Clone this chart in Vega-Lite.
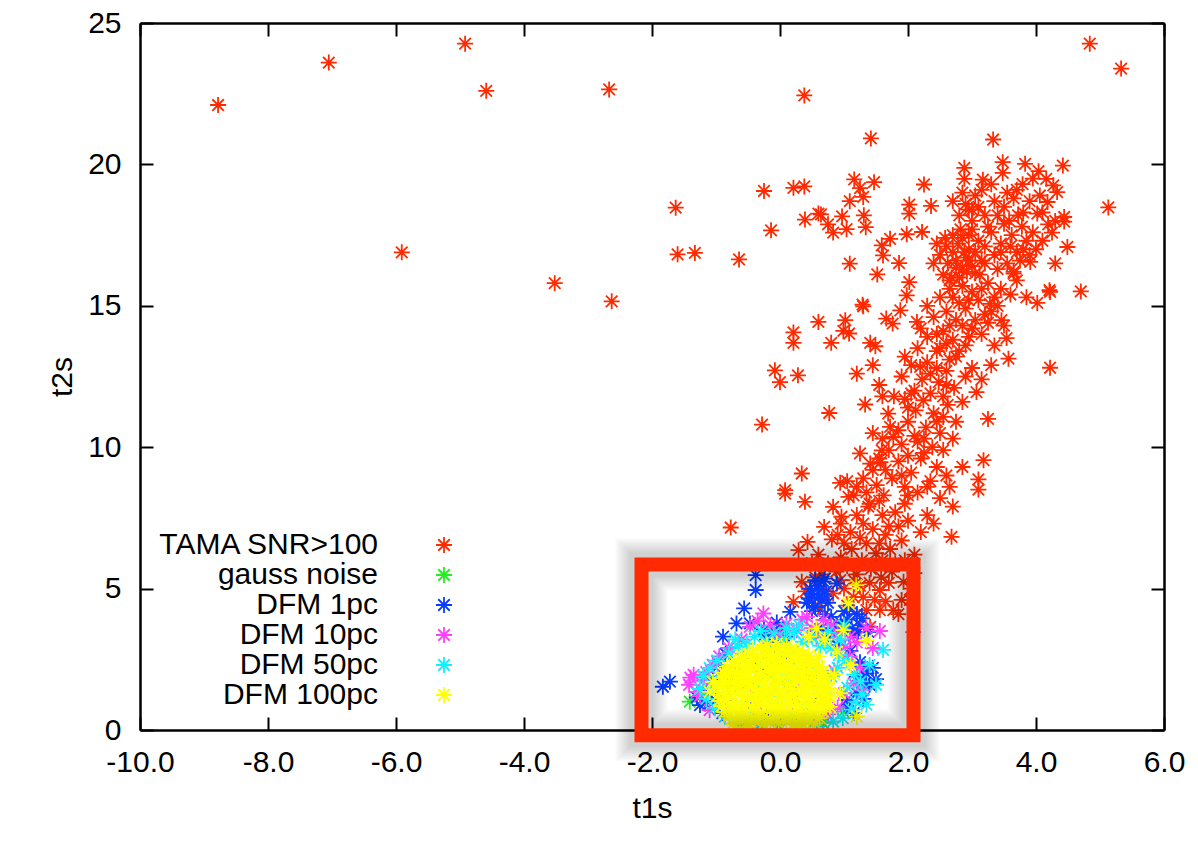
{
  "$schema": "https://vega.github.io/schema/vega-lite/v6.json",
  "width": 1024,
  "height": 707,
  "autosize": {"type": "none"},
  "padding": {"left": 140, "top": 23, "right": 34, "bottom": 132},
  "background": "#ffffff",
  "datasets": {
    "tama": [
      {"x":-8.78,"y":22.1},{"x":-7.05,"y":23.6},{"x":-4.92,"y":24.27},{"x":-4.59,"y":22.6},{"x":-2.67,"y":22.65},{"x":-5.91,"y":16.89},{"x":-3.52,"y":15.8},{"x":-2.63,"y":15.16},{"x":0.38,"y":22.44},{"x":4.84,"y":24.27},{"x":5.33,"y":23.39},{"x":1.42,"y":20.92},{"x":3.33,"y":20.88},{"x":5.13,"y":18.48},
      {"x":-1.63,"y":18.47},{"x":-1.6,"y":16.82},{"x":-1.33,"y":16.87},{"x":-0.64,"y":16.64},{"x":-0.25,"y":19.06},{"x":0.21,"y":19.17},{"x":0.38,"y":19.22},{"x":-0.14,"y":17.67},{"x":0.39,"y":18.05},{"x":0.6,"y":18.26},{"x":0.21,"y":14.06},{"x":0.21,"y":13.69},{"x":0.6,"y":14.43},{"x":-0.08,"y":12.72},{"x":0.0,"y":12.3},{"x":0.28,"y":12.54},{"x":-0.28,"y":10.8},
      {"x":1.16,"y":19.47},{"x":1.47,"y":19.37},{"x":1.25,"y":19.16},{"x":1.3,"y":18.85},{"x":1.09,"y":18.7},{"x":0.64,"y":18.23},{"x":0.97,"y":18.16},{"x":1.31,"y":18.2},{"x":0.75,"y":17.88},{"x":0.83,"y":17.59},{"x":1.04,"y":17.71},{"x":1.34,"y":17.78},{"x":2.25,"y":19.29},{"x":2.02,"y":18.58},{"x":2.02,"y":18.26},{"x":2.36,"y":18.53},{"x":2.88,"y":19.88},{"x":2.88,"y":19.49},{"x":3.17,"y":19.46},{"x":3.48,"y":20.08},{"x":3.48,"y":19.7},{"x":3.83,"y":20.02},{"x":4.04,"y":19.76},{"x":4.42,"y":19.96},{"x":4.16,"y":19.49},{"x":4.27,"y":19.26},{"x":3.79,"y":19.3},{"x":4.33,"y":19.02},{"x":4.06,"y":18.9},{"x":4.18,"y":18.67},{"x":4.44,"y":18.14},{"x":4.44,"y":17.98},{"x":4.19,"y":17.88},{"x":4.25,"y":17.59},{"x":4.49,"y":17.08},{"x":4.02,"y":18.26},{"x":3.91,"y":16.55},{"x":3.65,"y":16.14},{"x":4.21,"y":15.55},{"x":4.7,"y":15.51},{"x":4.02,"y":15.1},
      {"x":1.09,"y":16.49},{"x":1.52,"y":16.11},{"x":1.72,"y":17.37},{"x":1.59,"y":17.14},{"x":1.61,"y":16.78},{"x":1.86,"y":16.51},{"x":1.98,"y":17.53},{"x":2.22,"y":17.61},{"x":2.02,"y":15.84},{"x":1.29,"y":15.04},{"x":1.02,"y":14.49},{"x":0.99,"y":14.11},{"x":1.08,"y":14.02},{"x":0.8,"y":13.69},{"x":1.3,"y":14.98},{"x":1.41,"y":13.69},{"x":1.49,"y":13.57},{"x":1.66,"y":14.55},{"x":1.76,"y":14.37},{"x":1.88,"y":14.84},{"x":1.98,"y":15.37},{"x":2.14,"y":14.43},{"x":0.77,"y":11.21},{"x":1.33,"y":11.51},{"x":0.34,"y":9.07},{"x":0.08,"y":8.48},{"x":1.25,"y":9.78},{"x":1.59,"y":9.89},{"x":1.57,"y":9.47},{"x":1.41,"y":9.42},{"x":0.94,"y":8.74},{"x":1.2,"y":8.6},{"x":1.51,"y":8.66},{"x":2.19,"y":12.84},{"x":2.24,"y":11.66},{"x":1.69,"y":11.19},{"x":1.72,"y":10.72},{"x":1.77,"y":10.36},{"x":2.55,"y":11.07},{"x":2.6,"y":13.66},{"x":3.07,"y":11.95},{"x":3.25,"y":11.0},{"x":3.57,"y":13.13},{"x":4.22,"y":15.49},{"x":4.22,"y":12.81},{"x":3.54,"y":13.86},{"x":3.46,"y":14.49},{"x":3.28,"y":15.07},{"x":3.18,"y":9.54},{"x":3.1,"y":8.86},{"x":3.1,"y":8.5},
      {"x":-0.77,"y":7.16},{"x":0.08,"y":8.36},{"x":0.39,"y":8.07},{"x":0.69,"y":7.18},{"x":0.81,"y":6.74},{"x":0.43,"y":6.65},{"x":0.29,"y":6.36},{"x":0.83,"y":7.89},{"x":0.96,"y":7.54},{"x":1.07,"y":8.24},{"x":2.68,"y":6.83},{"x":2.65,"y":8.6},{"x":0.34,"y":5.24},{"x":0.94,"y":5.3},{"x":1.56,"y":4.95},{"x":1.93,"y":5.24},{"x":0.83,"y":4.83},{"x":0.21,"y":4.53},{"x":1.77,"y":4.24},{"x":1.56,"y":4.24},{"x":1.35,"y":4.24},{"x":1.41,"y":3.65},{"x":0.98,"y":3.53},{"x":2.03,"y":4.6},{"x":2.1,"y":5.55},
      {"x":0.95,"y":6.1},{"x":1.05,"y":5.8},{"x":1.12,"y":6.4},{"x":1.2,"y":5.5},{"x":1.28,"y":6.0},{"x":1.35,"y":6.6},{"x":1.42,"y":5.7},{"x":1.5,"y":6.25},{"x":1.58,"y":5.4},{"x":1.65,"y":6.9},{"x":1.1,"y":7.0},{"x":1.0,"y":6.6},{"x":0.88,"y":5.6},{"x":1.3,"y":7.3},{"x":1.45,"y":7.1},{"x":1.72,"y":6.4},{"x":1.8,"y":5.9},{"x":1.25,"y":5.1},{"x":1.15,"y":4.7},{"x":1.48,"y":4.6},{"x":1.7,"y":5.2},{"x":0.75,"y":5.9},{"x":0.6,"y":6.2},{"x":1.9,"y":6.7},{"x":2.0,"y":7.4},{"x":1.6,"y":7.6},{"x":1.38,"y":7.9},{"x":1.85,"y":7.2},{"x":1.55,"y":8.1},{"x":1.95,"y":8.0},{"x":2.2,"y":7.0},{"x":2.1,"y":6.2},{"x":0.55,"y":5.4},{"x":0.7,"y":4.8},{"x":1.05,"y":4.4},{"x":1.2,"y":4.1},{"x":1.65,"y":4.55},{"x":1.85,"y":4.1},
      {"x":0.5,"y":5.9},{"x":0.65,"y":5.5},{"x":0.9,"y":6.9},{"x":1.15,"y":5.3},{"x":1.4,"y":5.2},{"x":1.6,"y":6.0},{"x":1.75,"y":5.6},{"x":1.95,"y":6.0},{"x":2.05,"y":5.0},{"x":0.4,"y":4.9},{"x":0.6,"y":4.4},{"x":1.9,"y":4.6},{"x":1.3,"y":4.7},{"x":1.0,"y":5.0},{"x":1.25,"y":6.8},{"x":1.55,"y":6.6},{"x":1.7,"y":7.2},{"x":1.2,"y":7.6},{"x":0.95,"y":7.3},
      {"x":1.3,"y":8.9},{"x":1.45,"y":9.2},{"x":1.62,"y":8.3},{"x":1.75,"y":8.9},{"x":1.85,"y":9.5},{"x":1.95,"y":8.6},{"x":2.05,"y":9.1},{"x":2.15,"y":8.4},{"x":2.25,"y":9.8},{"x":2.35,"y":8.8},{"x":2.45,"y":9.3},{"x":1.7,"y":9.9},{"x":1.9,"y":10.1},{"x":2.1,"y":10.4},{"x":1.4,"y":8.0},{"x":1.15,"y":8.3},{"x":2.5,"y":8.2},{"x":2.3,"y":7.6},{"x":2.55,"y":9.9},{"x":1.8,"y":7.7},{"x":2.0,"y":8.3},{"x":2.4,"y":7.3},{"x":2.7,"y":7.9},{"x":2.6,"y":9.0},{"x":2.85,"y":9.3},{"x":1.55,"y":9.6},{"x":2.2,"y":9.6},{"x":2.0,"y":9.7},{"x":1.05,"y":8.8},{"x":1.35,"y":8.4},{"x":1.65,"y":9.2},{"x":2.3,"y":8.6},{"x":1.9,"y":9.0},
      {"x":1.85,"y":10.6},{"x":2.0,"y":10.9},{"x":2.12,"y":11.3},{"x":2.28,"y":10.7},{"x":2.4,"y":11.2},{"x":2.5,"y":10.5},{"x":2.62,"y":11.5},{"x":2.75,"y":10.9},{"x":1.95,"y":11.7},{"x":2.1,"y":12.0},{"x":2.22,"y":12.4},{"x":2.35,"y":11.9},{"x":2.48,"y":12.3},{"x":2.6,"y":12.7},{"x":2.72,"y":12.1},{"x":1.9,"y":12.5},{"x":2.05,"y":12.9},{"x":2.3,"y":13.0},{"x":2.45,"y":12.8},{"x":2.85,"y":11.6},{"x":2.9,"y":12.5},{"x":2.0,"y":11.4},{"x":2.55,"y":11.8},{"x":1.78,"y":11.8},{"x":2.15,"y":10.2},{"x":2.38,"y":10.0},{"x":2.7,"y":10.3},{"x":1.95,"y":13.2},{"x":2.65,"y":13.1},{"x":2.8,"y":13.4},{"x":3.0,"y":12.8},{"x":3.15,"y":12.4},{"x":3.3,"y":12.9},{"x":1.2,"y":12.6},{"x":1.45,"y":12.9},{"x":1.55,"y":12.2},{"x":1.6,"y":11.8},{"x":1.45,"y":10.5},{"x":2.25,"y":10.3},{"x":2.45,"y":10.9},{"x":1.6,"y":10.3},{"x":2.05,"y":11.9},{"x":2.6,"y":12.2},{"x":2.35,"y":12.6},
      {"x":2.15,"y":13.5},{"x":2.3,"y":13.9},{"x":2.45,"y":13.4},{"x":2.55,"y":14.1},{"x":2.7,"y":13.8},{"x":2.85,"y":14.3},{"x":2.95,"y":13.9},{"x":3.05,"y":14.5},{"x":3.15,"y":14.0},{"x":3.25,"y":14.4},{"x":3.35,"y":13.6},{"x":2.4,"y":14.6},{"x":2.6,"y":14.8},{"x":2.75,"y":14.5},{"x":2.9,"y":14.9},{"x":3.1,"y":15.2},{"x":3.2,"y":14.7},{"x":2.3,"y":15.0},{"x":2.5,"y":15.3},{"x":3.4,"y":15.0},{"x":3.5,"y":14.3},{"x":2.2,"y":14.2},{"x":3.6,"y":15.4},{"x":3.0,"y":15.5},{"x":2.65,"y":15.6},{"x":2.8,"y":15.1},{"x":2.5,"y":13.5},{"x":2.75,"y":13.2},{"x":2.9,"y":13.6},{"x":3.0,"y":14.2},{"x":2.45,"y":14.0},{"x":2.65,"y":14.3},{"x":2.7,"y":15.3},{"x":2.95,"y":15.2},{"x":3.3,"y":14.8},
      {"x":2.55,"y":16.1},{"x":2.62,"y":16.5},{"x":2.7,"y":16.9},{"x":2.78,"y":17.2},{"x":2.85,"y":16.3},{"x":2.9,"y":16.7},{"x":2.95,"y":17.0},{"x":3.0,"y":16.4},{"x":3.05,"y":16.9},{"x":3.1,"y":17.3},{"x":2.6,"y":17.1},{"x":2.7,"y":17.5},{"x":2.82,"y":17.7},{"x":2.95,"y":17.5},{"x":3.15,"y":16.6},{"x":2.68,"y":16.0},{"x":2.75,"y":16.6},{"x":2.88,"y":16.9},{"x":2.8,"y":16.0},{"x":3.0,"y":17.7},{"x":2.5,"y":16.8},{"x":2.58,"y":17.4},{"x":2.65,"y":15.9},{"x":2.92,"y":16.2},{"x":3.12,"y":16.1},{"x":3.2,"y":17.1},{"x":2.4,"y":16.5},{"x":2.45,"y":17.2},{"x":2.85,"y":15.7},{"x":3.15,"y":15.6},{"x":3.35,"y":15.3},{"x":2.75,"y":16.35},{"x":2.95,"y":16.6},{"x":3.05,"y":16.15},{"x":2.85,"y":17.4},{"x":3.2,"y":16.5},
      {"x":3.35,"y":16.8},{"x":3.45,"y":17.2},{"x":3.55,"y":16.5},{"x":3.62,"y":17.5},{"x":3.7,"y":16.9},{"x":3.78,"y":17.8},{"x":3.85,"y":17.3},{"x":3.5,"y":17.9},{"x":3.4,"y":16.3},{"x":3.65,"y":16.2},{"x":3.9,"y":16.8},{"x":3.95,"y":17.6},{"x":3.3,"y":17.6},{"x":3.58,"y":18.0},{"x":3.75,"y":16.6},{"x":3.25,"y":15.8},{"x":3.45,"y":15.6},{"x":3.7,"y":15.9},{"x":3.85,"y":15.3},{"x":3.45,"y":16.9},{"x":3.6,"y":17.1},{"x":3.8,"y":17.0},
      {"x":2.8,"y":18.2},{"x":2.9,"y":18.6},{"x":3.0,"y":18.0},{"x":3.05,"y":18.9},{"x":2.95,"y":18.4},{"x":3.1,"y":18.5},{"x":2.85,"y":19.0},{"x":3.2,"y":18.2},{"x":3.35,"y":18.7},{"x":3.5,"y":18.5},{"x":3.65,"y":18.8},{"x":3.8,"y":18.3},{"x":3.9,"y":18.7},{"x":3.7,"y":19.1},{"x":3.55,"y":19.0},{"x":3.95,"y":19.5},{"x":4.1,"y":18.3},{"x":3.3,"y":19.3},{"x":2.7,"y":18.7},{"x":3.15,"y":19.1},{"x":4.3,"y":18.0},{"x":4.1,"y":17.3},{"x":4.0,"y":17.0},{"x":4.3,"y":16.5},{"x":3.72,"y":18.2},{"x":3.4,"y":18.2},{"x":3.0,"y":18.4},{"x":3.25,"y":17.8}
    ],
    "gauss": [
      {"x":-1.41,"y":1.0},{"x":0.99,"y":0.65},{"x":0.67,"y":0.25},{"x":-0.05,"y":0.03},{"x":-0.6,"y":0.8},{"x":-0.3,"y":1.2},{"x":0.1,"y":1.6},{"x":0.4,"y":1.0},{"x":-0.2,"y":2.0},{"x":0.2,"y":0.5},{"x":-0.8,"y":1.5},{"x":0.5,"y":1.8},{"x":-0.5,"y":0.4},{"x":0.0,"y":2.4},{"x":0.3,"y":2.2},{"x":-0.9,"y":0.9},{"x":0.7,"y":1.3},{"x":-0.1,"y":0.7},{"x":-0.4,"y":1.7},{"x":0.15,"y":1.1}
    ],
    "dfm1": [
      {"x":-1.83,"y":1.53},{"x":-1.72,"y":1.71},{"x":-1.17,"y":0.94},{"x":-1.25,"y":0.88},{"x":-0.78,"y":1.06},{"x":-0.89,"y":3.3},{"x":-0.68,"y":3.77},{"x":-0.56,"y":4.3},{"x":-0.38,"y":5.48},{"x":-0.38,"y":4.95},{"x":-0.47,"y":3.77},{"x":0.16,"y":4.18},{"x":0.89,"y":5.18},{"x":1.38,"y":3.47},{"x":1.2,"y":1.88},{"x":1.3,"y":2.12},{"x":1.33,"y":1.6},{"x":1.04,"y":1.06},
      {"x":0.42,"y":4.5},{"x":0.5,"y":4.8},{"x":0.58,"y":5.1},{"x":0.65,"y":4.6},{"x":0.72,"y":4.9},{"x":0.55,"y":4.35},{"x":0.68,"y":5.25},{"x":0.47,"y":5.0},{"x":0.62,"y":4.95},{"x":0.75,"y":4.5},{"x":0.5,"y":4.2},{"x":0.6,"y":4.7},{"x":0.7,"y":5.35},{"x":0.45,"y":4.65},{"x":0.55,"y":5.3},
      {"x":0.98,"y":3.5},{"x":1.05,"y":3.9},{"x":1.12,"y":3.6},{"x":1.2,"y":4.1},{"x":1.25,"y":3.7},{"x":1.0,"y":4.2},{"x":1.15,"y":3.35},{"x":1.28,"y":3.95},{"x":1.08,"y":4.3},{"x":0.95,"y":3.8},{"x":1.22,"y":3.45},
      {"x":-0.2,"y":3.2},{"x":-0.1,"y":3.5},{"x":0.0,"y":3.1},{"x":0.05,"y":3.6},{"x":-0.15,"y":2.9},{"x":0.08,"y":3.3},{"x":-0.25,"y":3.55},{"x":-0.05,"y":3.8},
      {"x":0.8,"y":4.0},{"x":0.85,"y":3.6},{"x":0.75,"y":3.3},{"x":0.9,"y":3.0},{"x":0.65,"y":3.6},{"x":0.7,"y":4.1},{"x":0.55,"y":3.5},
      {"x":1.1,"y":2.8},{"x":1.25,"y":2.4},{"x":1.35,"y":2.0},{"x":1.4,"y":1.6},{"x":1.2,"y":1.3},{"x":1.3,"y":1.1},{"x":1.45,"y":2.2},{"x":1.5,"y":1.8},{"x":1.05,"y":0.8},{"x":1.15,"y":0.6},
      {"x":-1.15,"y":1.3},{"x":-1.05,"y":1.8},{"x":-0.95,"y":2.3},{"x":-0.85,"y":2.7},{"x":-1.3,"y":1.15},{"x":-0.9,"y":0.6},{"x":-1.0,"y":1.05},
      {"x":-0.5,"y":1.0},{"x":0.2,"y":1.5},{"x":-0.3,"y":2.2},{"x":0.4,"y":0.7},{"x":-0.7,"y":1.8},{"x":0.1,"y":2.6},{"x":0.5,"y":2.0},{"x":-0.2,"y":0.5},{"x":0.6,"y":1.1},{"x":-0.6,"y":2.5}
    ],
    "dfm10": [
      {"x":-1.42,"y":1.6},{"x":-1.35,"y":1.95},{"x":-1.3,"y":1.35},{"x":-1.2,"y":1.75},{"x":-1.15,"y":2.05},{"x":-1.25,"y":1.2},{"x":-1.4,"y":1.85},{"x":-1.05,"y":2.3},{"x":-0.95,"y":2.6},{"x":-0.8,"y":2.9},{"x":-0.6,"y":3.2},{"x":-0.47,"y":3.65},{"x":-0.35,"y":3.85},{"x":-0.26,"y":4.12},{"x":-0.15,"y":3.7},{"x":0.0,"y":3.4},{"x":0.1,"y":3.75},{"x":0.26,"y":3.53},{"x":0.35,"y":3.9},{"x":0.42,"y":4.0},{"x":0.5,"y":3.6},{"x":0.57,"y":3.3},{"x":0.68,"y":3.89},{"x":0.8,"y":3.7},{"x":0.9,"y":3.4},{"x":1.09,"y":3.3},{"x":1.02,"y":2.95},{"x":1.2,"y":3.1},{"x":1.09,"y":2.59},{"x":0.85,"y":2.1},{"x":1.15,"y":1.65},{"x":1.25,"y":2.2},{"x":1.0,"y":1.3},{"x":0.68,"y":1.06},{"x":0.9,"y":0.8},{"x":1.3,"y":1.4},{"x":1.56,"y":3.5},{"x":2.08,"y":3.46},{"x":1.45,"y":2.9},{"x":1.35,"y":3.6},{"x":0.75,"y":0.55},{"x":-0.9,"y":0.95},{"x":-1.1,"y":0.7},
      {"x":-0.5,"y":1.5},{"x":0.2,"y":1.0},{"x":-0.2,"y":2.5},{"x":0.4,"y":2.2},{"x":-0.7,"y":2.0},{"x":0.0,"y":0.6},{"x":0.3,"y":1.7},{"x":-0.35,"y":0.9},{"x":0.55,"y":0.3}
    ],
    "dfm50": [
      {"x":-1.2,"y":1.9},{"x":-1.1,"y":2.2},{"x":-0.98,"y":2.45},{"x":-0.8,"y":2.7},{"x":-1.05,"y":1.5},{"x":-1.15,"y":1.1},{"x":-0.65,"y":2.95},{"x":-0.52,"y":3.05},{"x":-0.4,"y":3.3},{"x":-0.22,"y":3.15},{"x":-0.1,"y":3.42},{"x":0.07,"y":3.22},{"x":0.22,"y":3.45},{"x":0.36,"y":3.12},{"x":0.5,"y":3.3},{"x":0.63,"y":2.98},{"x":0.8,"y":2.9},{"x":0.92,"y":2.65},{"x":1.04,"y":2.45},{"x":1.16,"y":1.96},{"x":1.26,"y":1.72},{"x":1.28,"y":1.26},{"x":1.18,"y":1.0},{"x":1.12,"y":0.72},{"x":0.98,"y":0.42},{"x":0.83,"y":0.3},{"x":0.58,"y":0.12},{"x":0.3,"y":0.05},{"x":0.0,"y":0.04},{"x":-0.32,"y":0.07},{"x":-0.62,"y":0.18},{"x":-0.86,"y":0.47},{"x":-1.02,"y":0.78},{"x":1.61,"y":2.83},{"x":1.4,"y":2.3},{"x":0.95,"y":3.2},{"x":0.3,"y":3.7},{"x":-0.3,"y":3.5},{"x":1.5,"y":1.6},{"x":1.35,"y":0.9},{"x":-1.25,"y":1.45},{"x":0.1,"y":3.6},{"x":0.75,"y":3.45},{"x":-0.7,"y":3.2},{"x":0.9,"y":2.2},{"x":1.05,"y":1.5},{"x":1.0,"y":3.7},
      {"x":-0.5,"y":1.2},{"x":0.1,"y":1.8},{"x":0.4,"y":0.8},{"x":-0.2,"y":2.4},{"x":0.6,"y":1.6},{"x":-0.7,"y":1.6},{"x":0.2,"y":2.6},{"x":-0.4,"y":0.5},{"x":0.5,"y":2.3},{"x":0.0,"y":1.0},{"x":-0.9,"y":1.9},{"x":0.8,"y":1.9}
    ],
    "dfm100": [
      {"x":-0.74,"y":0.22},{"x":-0.63,"y":0.28},{"x":-0.5,"y":0.25},{"x":-0.39,"y":0.31},{"x":-0.26,"y":0.2},{"x":-0.15,"y":0.27},{"x":-0.02,"y":0.24},{"x":0.1,"y":0.3},{"x":0.21,"y":0.21},{"x":0.34,"y":0.26},{"x":0.45,"y":0.29},{"x":0.55,"y":0.23},
      {"x":-0.8,"y":0.47},{"x":-0.69,"y":0.42},{"x":-0.57,"y":0.5},{"x":-0.44,"y":0.44},{"x":-0.33,"y":0.48},{"x":-0.2,"y":0.41},{"x":-0.09,"y":0.46},{"x":0.04,"y":0.49},{"x":0.15,"y":0.43},{"x":0.28,"y":0.47},{"x":0.39,"y":0.45},{"x":0.51,"y":0.5},{"x":0.62,"y":0.42},
      {"x":-0.87,"y":0.63},{"x":-0.75,"y":0.68},{"x":-0.64,"y":0.61},{"x":-0.51,"y":0.66},{"x":-0.4,"y":0.7},{"x":-0.27,"y":0.62},{"x":-0.16,"y":0.67},{"x":-0.03,"y":0.64},{"x":0.08,"y":0.69},{"x":0.21,"y":0.6},{"x":0.32,"y":0.66},{"x":0.45,"y":0.63},{"x":0.56,"y":0.68},{"x":0.67,"y":0.65},
      {"x":-0.91,"y":0.84},{"x":-0.8,"y":0.88},{"x":-0.67,"y":0.82},{"x":-0.56,"y":0.87},{"x":-0.43,"y":0.83},{"x":-0.32,"y":0.89},{"x":-0.19,"y":0.85},{"x":-0.08,"y":0.81},{"x":0.05,"y":0.86},{"x":0.16,"y":0.9},{"x":0.29,"y":0.83},{"x":0.4,"y":0.87},{"x":0.53,"y":0.84},{"x":0.64,"y":0.88},{"x":0.72,"y":0.82},
      {"x":-0.95,"y":1.03},{"x":-0.83,"y":1.08},{"x":-0.72,"y":1.01},{"x":-0.59,"y":1.06},{"x":-0.48,"y":1.1},{"x":-0.35,"y":1.02},{"x":-0.24,"y":1.07},{"x":-0.11,"y":1.04},{"x":0.0,"y":1.09},{"x":0.13,"y":1.0},{"x":0.24,"y":1.05},{"x":0.37,"y":1.08},{"x":0.48,"y":1.03},{"x":0.61,"y":1.07},{"x":0.73,"y":1.02},
      {"x":-0.96,"y":1.24},{"x":-0.85,"y":1.28},{"x":-0.73,"y":1.22},{"x":-0.61,"y":1.27},{"x":-0.5,"y":1.21},{"x":-0.37,"y":1.29},{"x":-0.26,"y":1.25},{"x":-0.13,"y":1.23},{"x":-0.02,"y":1.27},{"x":0.11,"y":1.2},{"x":0.22,"y":1.26},{"x":0.35,"y":1.3},{"x":0.46,"y":1.22},{"x":0.59,"y":1.25},{"x":0.7,"y":1.28},{"x":0.76,"y":1.21},
      {"x":-0.97,"y":1.44},{"x":-0.86,"y":1.49},{"x":-0.74,"y":1.42},{"x":-0.62,"y":1.47},{"x":-0.51,"y":1.43},{"x":-0.39,"y":1.5},{"x":-0.27,"y":1.45},{"x":-0.15,"y":1.41},{"x":-0.04,"y":1.48},{"x":0.09,"y":1.44},{"x":0.2,"y":1.46},{"x":0.33,"y":1.42},{"x":0.44,"y":1.49},{"x":0.57,"y":1.45},{"x":0.68,"y":1.43},{"x":0.77,"y":1.47},
      {"x":-0.95,"y":1.64},{"x":-0.84,"y":1.68},{"x":-0.72,"y":1.62},{"x":-0.6,"y":1.67},{"x":-0.49,"y":1.61},{"x":-0.36,"y":1.69},{"x":-0.25,"y":1.65},{"x":-0.12,"y":1.63},{"x":-0.01,"y":1.67},{"x":0.12,"y":1.6},{"x":0.23,"y":1.66},{"x":0.36,"y":1.7},{"x":0.47,"y":1.62},{"x":0.6,"y":1.65},{"x":0.71,"y":1.68},
      {"x":-0.92,"y":1.84},{"x":-0.8,"y":1.88},{"x":-0.69,"y":1.82},{"x":-0.57,"y":1.87},{"x":-0.45,"y":1.83},{"x":-0.33,"y":1.89},{"x":-0.21,"y":1.85},{"x":-0.09,"y":1.81},{"x":0.02,"y":1.86},{"x":0.15,"y":1.9},{"x":0.26,"y":1.83},{"x":0.39,"y":1.87},{"x":0.5,"y":1.84},{"x":0.62,"y":1.88},{"x":0.72,"y":1.82},
      {"x":-0.89,"y":2.03},{"x":-0.77,"y":2.08},{"x":-0.65,"y":2.01},{"x":-0.53,"y":2.06},{"x":-0.41,"y":2.1},{"x":-0.29,"y":2.02},{"x":-0.17,"y":2.07},{"x":-0.05,"y":2.04},{"x":0.07,"y":2.09},{"x":0.19,"y":2.0},{"x":0.31,"y":2.05},{"x":0.43,"y":2.08},{"x":0.55,"y":2.03},{"x":0.67,"y":2.06},
      {"x":-0.83,"y":2.24},{"x":-0.71,"y":2.28},{"x":-0.59,"y":2.22},{"x":-0.47,"y":2.27},{"x":-0.35,"y":2.21},{"x":-0.23,"y":2.29},{"x":-0.11,"y":2.25},{"x":0.01,"y":2.23},{"x":0.13,"y":2.27},{"x":0.25,"y":2.2},{"x":0.37,"y":2.26},{"x":0.49,"y":2.3},{"x":0.61,"y":2.23},
      {"x":-0.72,"y":2.44},{"x":-0.6,"y":2.48},{"x":-0.48,"y":2.42},{"x":-0.36,"y":2.47},{"x":-0.24,"y":2.43},{"x":-0.12,"y":2.49},{"x":0.0,"y":2.45},{"x":0.12,"y":2.41},{"x":0.24,"y":2.48},{"x":0.36,"y":2.44},{"x":0.48,"y":2.46},{"x":0.57,"y":2.42},
      {"x":-0.6,"y":2.64},{"x":-0.48,"y":2.68},{"x":-0.36,"y":2.62},{"x":-0.24,"y":2.67},{"x":-0.12,"y":2.63},{"x":0.0,"y":2.69},{"x":0.12,"y":2.65},{"x":0.24,"y":2.61},{"x":0.36,"y":2.67},{"x":0.45,"y":2.63},
      {"x":-0.42,"y":2.84},{"x":-0.3,"y":2.88},{"x":-0.18,"y":2.82},{"x":-0.06,"y":2.87},{"x":0.06,"y":2.83},{"x":0.18,"y":2.86},{"x":0.3,"y":2.82},
      {"x":-0.2,"y":3.02},{"x":-0.05,"y":3.05},{"x":0.1,"y":2.98},
      {"x":0.57,"y":3.59},{"x":0.99,"y":3.53},{"x":1.07,"y":4.48},{"x":1.19,"y":5.12},{"x":1.35,"y":3.18},{"x":0.89,"y":2.77},{"x":0.94,"y":1.3},{"x":0.78,"y":0.82},{"x":1.2,"y":0.47},{"x":-1.05,"y":1.7},{"x":-1.1,"y":1.35},{"x":0.6,"y":2.6},{"x":0.85,"y":1.95},{"x":0.7,"y":3.2},{"x":1.1,"y":2.3},{"x":0.45,"y":3.3},{"x":-0.55,"y":0.1},{"x":0.3,"y":0.08}
    ],
    "box": [{"x1": -2.164, "x2": 2.086, "y1": -0.187, "y2": 5.848}]
  },
  "config": {
    "view": {"stroke": null},
    "axis": {
      "grid": false,
      "domainColor": "#000000",
      "domainWidth": 2.5,
      "tickColor": "#000000",
      "tickWidth": 2,
      "tickSize": -13,
      "labelFont": "Liberation Sans",
      "labelFontSize": 30,
      "labelColor": "#000000",
      "titleFont": "Liberation Sans",
      "titleFontSize": 30,
      "titleFontWeight": "normal",
      "titleColor": "#000000",
      "zindex": 1
    },
    "legend": {
      "labelFont": "Liberation Sans",
      "labelFontSize": 30,
      "labelColor": "#000000"
    }
  },
  "resolve": {"axis": {"x": "independent", "y": "independent"}},
  "layer": [
    {
      "data": {"name": "tama"},
      "mark": {"type": "point", "shape": "M-1,0L1,0M0,-1L0,1M-0.72,-0.72L0.72,0.72M-0.72,0.72L0.72,-0.72", "size": 256, "strokeWidth": 1.8, "filled": false, "opacity": 1},
      "encoding": {
        "x": {"field": "x", "type": "quantitative", "scale": {"domain": [-10, 6], "nice": false, "zero": false},
              "axis": {"title": "t1s", "values": [-10, -8, -6, -4, -2, 0, 2, 4, 6], "labelExpr": "replace(format(datum.value, '.1f'), '\u2212', '-')", "labelPadding": 30, "titlePadding": 16, "labelFlush": false}},
        "y": {"field": "y", "type": "quantitative", "scale": {"domain": [0, 25], "nice": false, "zero": false},
              "axis": {"title": "t2s", "values": [0, 5, 10, 15, 20, 25], "format": "d", "labelPadding": 32, "titlePadding": 10, "labelFlush": false}},
        "color": {
          "datum": "TAMA SNR>100",
          "type": "nominal",
          "scale": {
            "domain": ["TAMA SNR>100", "gauss noise", "DFM 1pc", "DFM 10pc", "DFM 50pc", "DFM 100pc"],
            "range": ["#ff2a00", "#22ee22", "#0a3cff", "#ff40ff", "#10f0ff", "#ffff00"]
          },
          "legend": {
            "title": null,
            "orient": "none",
            "legendX": 289,
            "legendY": 507,
            "padding": 0,
            "symbolType": "M-1,0L1,0M0,-1L0,1M-0.72,-0.72L0.72,0.72M-0.72,0.72L0.72,-0.72",
            "symbolSize": 256,
            "symbolStrokeWidth": 1.8,
            "labelAlign": "right",
            "labelOffset": -81,
            "labelLimit": 400,
            "rowPadding": -1
          }
        }
      }
    },
    {
      "data": {"name": "gauss"},
      "mark": {"type": "point", "shape": "M-1,0L1,0M0,-1L0,1M-0.72,-0.72L0.72,0.72M-0.72,0.72L0.72,-0.72", "size": 256, "strokeWidth": 1.8, "filled": false, "opacity": 1},
      "encoding": {
        "x": {"field": "x", "type": "quantitative", "axis": null},
        "y": {"field": "y", "type": "quantitative", "axis": null},
        "color": {"datum": "gauss noise", "type": "nominal"}
      }
    },
    {
      "data": {"name": "dfm1"},
      "mark": {"type": "point", "shape": "M-1,0L1,0M0,-1L0,1M-0.72,-0.72L0.72,0.72M-0.72,0.72L0.72,-0.72", "size": 256, "strokeWidth": 1.8, "filled": false, "opacity": 1},
      "encoding": {
        "x": {"field": "x", "type": "quantitative", "axis": null},
        "y": {"field": "y", "type": "quantitative", "axis": null},
        "color": {"datum": "DFM 1pc", "type": "nominal"}
      }
    },
    {
      "data": {"name": "dfm10"},
      "mark": {"type": "point", "shape": "M-1,0L1,0M0,-1L0,1M-0.72,-0.72L0.72,0.72M-0.72,0.72L0.72,-0.72", "size": 256, "strokeWidth": 1.8, "filled": false, "opacity": 1},
      "encoding": {
        "x": {"field": "x", "type": "quantitative", "axis": null},
        "y": {"field": "y", "type": "quantitative", "axis": null},
        "color": {"datum": "DFM 10pc", "type": "nominal"}
      }
    },
    {
      "data": {"name": "dfm50"},
      "mark": {"type": "point", "shape": "M-1,0L1,0M0,-1L0,1M-0.72,-0.72L0.72,0.72M-0.72,0.72L0.72,-0.72", "size": 256, "strokeWidth": 1.8, "filled": false, "opacity": 1},
      "encoding": {
        "x": {"field": "x", "type": "quantitative", "axis": null},
        "y": {"field": "y", "type": "quantitative", "axis": null},
        "color": {"datum": "DFM 50pc", "type": "nominal"}
      }
    },
    {
      "data": {"name": "dfm100"},
      "mark": {"type": "point", "shape": "M-1,0L1,0M0,-1L0,1M-0.72,-0.72L0.72,0.72M-0.72,0.72L0.72,-0.72", "size": 256, "strokeWidth": 1.8, "filled": false, "opacity": 1},
      "encoding": {
        "x": {"field": "x", "type": "quantitative", "axis": null},
        "y": {"field": "y", "type": "quantitative", "axis": null},
        "color": {"datum": "DFM 100pc", "type": "nominal"}
      }
    },
    {"data": {"name": "box"}, "mark": {"type": "rect", "fill": null, "stroke": "#000000", "strokeOpacity": 0.022, "strokeWidth": 52},
     "encoding": {"x": {"field": "x1", "type": "quantitative", "axis": null}, "x2": {"field": "x2"}, "y": {"field": "y1", "type": "quantitative", "axis": null}, "y2": {"field": "y2"}}},
    {"data": {"name": "box"}, "mark": {"type": "rect", "fill": null, "stroke": "#000000", "strokeOpacity": 0.022, "strokeWidth": 48},
     "encoding": {"x": {"field": "x1", "type": "quantitative", "axis": null}, "x2": {"field": "x2"}, "y": {"field": "y1", "type": "quantitative", "axis": null}, "y2": {"field": "y2"}}},
    {"data": {"name": "box"}, "mark": {"type": "rect", "fill": null, "stroke": "#000000", "strokeOpacity": 0.022, "strokeWidth": 44},
     "encoding": {"x": {"field": "x1", "type": "quantitative", "axis": null}, "x2": {"field": "x2"}, "y": {"field": "y1", "type": "quantitative", "axis": null}, "y2": {"field": "y2"}}},
    {"data": {"name": "box"}, "mark": {"type": "rect", "fill": null, "stroke": "#000000", "strokeOpacity": 0.022, "strokeWidth": 40},
     "encoding": {"x": {"field": "x1", "type": "quantitative", "axis": null}, "x2": {"field": "x2"}, "y": {"field": "y1", "type": "quantitative", "axis": null}, "y2": {"field": "y2"}}},
    {"data": {"name": "box"}, "mark": {"type": "rect", "fill": null, "stroke": "#000000", "strokeOpacity": 0.022, "strokeWidth": 36},
     "encoding": {"x": {"field": "x1", "type": "quantitative", "axis": null}, "x2": {"field": "x2"}, "y": {"field": "y1", "type": "quantitative", "axis": null}, "y2": {"field": "y2"}}},
    {"data": {"name": "box"}, "mark": {"type": "rect", "fill": null, "stroke": "#000000", "strokeOpacity": 0.022, "strokeWidth": 32},
     "encoding": {"x": {"field": "x1", "type": "quantitative", "axis": null}, "x2": {"field": "x2"}, "y": {"field": "y1", "type": "quantitative", "axis": null}, "y2": {"field": "y2"}}},
    {"data": {"name": "box"}, "mark": {"type": "rect", "fill": null, "stroke": "#000000", "strokeOpacity": 0.022, "strokeWidth": 28},
     "encoding": {"x": {"field": "x1", "type": "quantitative", "axis": null}, "x2": {"field": "x2"}, "y": {"field": "y1", "type": "quantitative", "axis": null}, "y2": {"field": "y2"}}},
    {"data": {"name": "box"}, "mark": {"type": "rect", "fill": null, "stroke": "#000000", "strokeOpacity": 0.022, "strokeWidth": 24},
     "encoding": {"x": {"field": "x1", "type": "quantitative", "axis": null}, "x2": {"field": "x2"}, "y": {"field": "y1", "type": "quantitative", "axis": null}, "y2": {"field": "y2"}}},
    {
      "data": {"name": "box"},
      "mark": {"type": "rect", "fill": null, "stroke": "#ff2a00", "strokeWidth": 14},
      "encoding": {
        "x": {"field": "x1", "type": "quantitative", "axis": {"orient": "top", "title": null, "labels": false, "values": [-10, -8, -6, -4, -2, 0, 2, 4, 6]}},
        "x2": {"field": "x2"},
        "y": {"field": "y1", "type": "quantitative", "axis": {"orient": "right", "title": null, "labels": false, "values": [0, 5, 10, 15, 20, 25]}},
        "y2": {"field": "y2"}
      }
    }
  ]
}
